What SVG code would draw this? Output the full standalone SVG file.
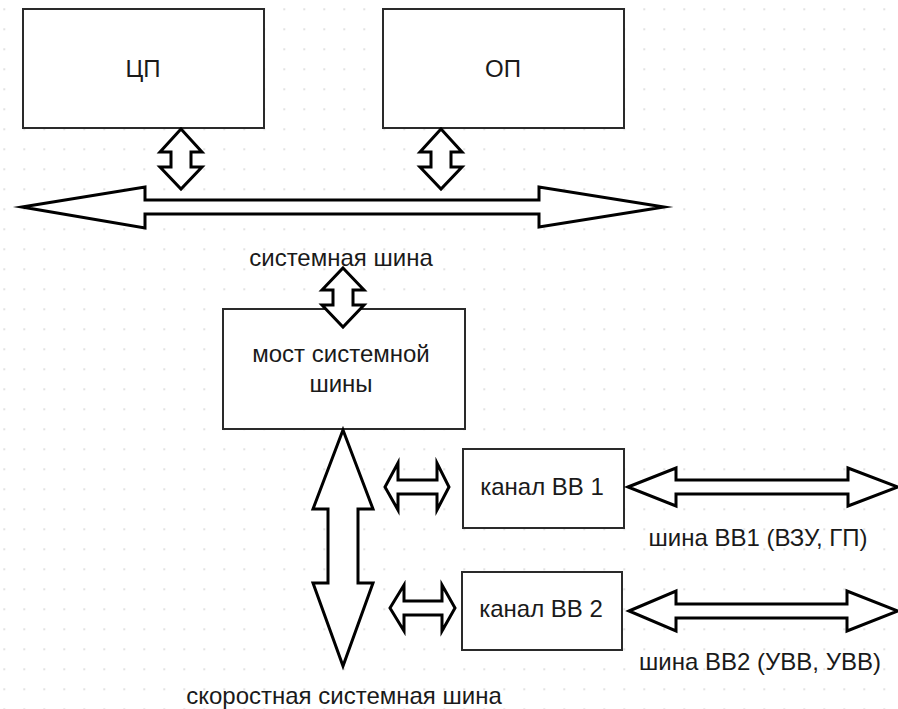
<svg xmlns="http://www.w3.org/2000/svg" width="898" height="709" viewBox="0 0 898 709">
<defs>
<pattern id="grid" x="3.5" y="8.5" width="20" height="20" patternUnits="userSpaceOnUse">
<rect x="0" y="0" width="1.4" height="1.4" fill="#c4c4c4"/>
</pattern>
<style>
.box{fill:#fff;stroke:#2a2a2a;stroke-width:2}
.arr{fill:#fff;stroke:#000;stroke-width:3;stroke-linejoin:miter;stroke-miterlimit:10}
text{font-family:"Liberation Sans",Arial,sans-serif;font-size:24px;fill:#1a1a1a;text-anchor:middle}
</style>
</defs>
<rect width="898" height="709" fill="#fff"/>
<rect width="898" height="709" fill="url(#grid)"/>
<g id="cpu">
<rect class="box" x="23" y="9" width="241" height="119"/>
<text x="143" y="77">ЦП</text>
</g>
<g id="ram">
<rect class="box" x="383" y="9" width="241" height="119"/>
<text x="503" y="77">ОП</text>
</g>
<g id="sysbus-label">
<text x="341" y="266">системная шина</text>
</g>
<g id="bridge">
<rect class="box" x="223" y="309" width="242" height="120"/>
<text x="341" y="362">мост системной</text>
<text x="341" y="392">шины</text>
</g>
<g id="ch1">
<rect class="box" x="463" y="449" width="161" height="79"/>
<text x="542" y="495">канал ВВ 1</text>
</g>
<g id="ch2">
<rect class="box" x="462" y="572" width="160" height="78"/>
<text x="541" y="617">канал ВВ 2</text>
</g>
<g id="bus1-label">
<text x="758" y="546">шина ВВ1 (ВЗУ, ГП)</text>
</g>
<g id="bus2-label">
<text x="760" y="670">шина ВВ2 (УВВ, УВВ)</text>
</g>
<g id="fastbus-label">
<text x="344" y="704">скоростная системная шина</text>
</g>
<g id="connectors">
<polygon class="arr" points="22,207 145,187 145,200 539,200 539,187 664,207 539,227 539,214 145,214 145,228"/>
<polygon class="arr" points="181,129 202,152 191,152 191,167 202,167 181,189 160,167 171,167 171,152 160,152"/>
<polygon class="arr" points="441,129 462,152 451,152 451,167 462,167 441,189 420,167 431,167 431,152 420,152"/>
<polygon class="arr" points="343,268 364,290 353,290 353,305 364,305 343,327 322,305 333,305 333,290 322,290"/>
<polygon class="arr" points="343,430 373,509 358,509 358,583 373,583 343,666 313,583 328,583 328,509 313,509"/>
<polygon class="arr" points="385,487 398,463 398,480 437,480 437,463 449,487 437,510 437,494 398,494 398,510"/>
<polygon class="arr" points="390,608 404,585 404,601 442,601 442,585 455,608 442,631 442,615 404,615 404,631"/>
<polygon class="arr" points="628,487 676,468 676,480 848,480 848,468 898,487 848,506 848,494 676,494 676,506"/>
<polygon class="arr" points="629,611 676,591 676,604 847,604 847,591 898,611 847,631 847,618 676,618 676,631"/>
</g>
</svg>
